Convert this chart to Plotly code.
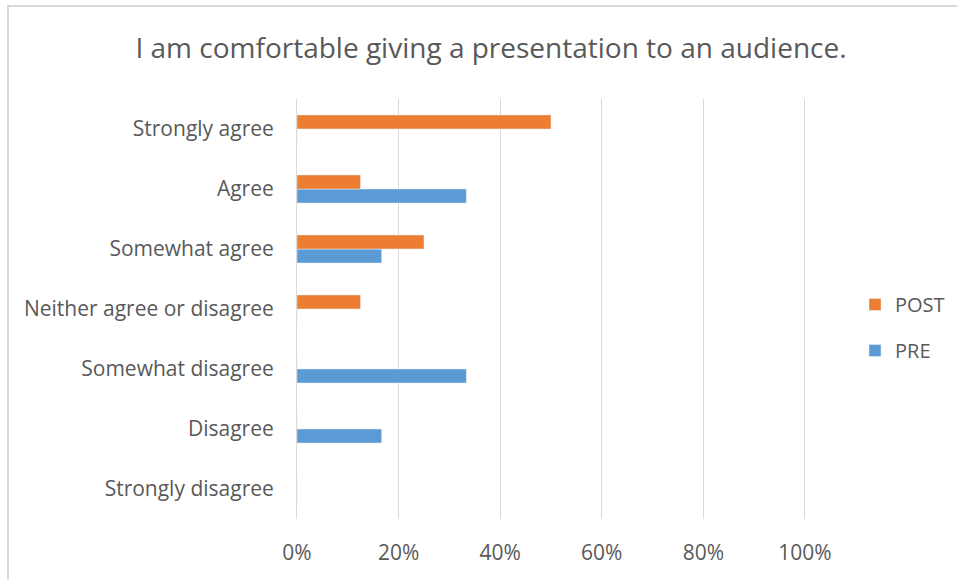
import plotly.graph_objects as go

# Survey responses, listed bottom-to-top as they appear on the axis
categories = [
    "Strongly disagree",
    "Disagree",
    "Somewhat disagree",
    "Neither agree or disagree",
    "Somewhat agree",
    "Agree",
    "Strongly agree",
]
pre_values = [0, 1/6, 1/3, 0, 1/6, 1/3, 0]
post_values = [0, 0, 0, 0.125, 0.25, 0.125, 0.5]
x_ticks = [0, 0.2, 0.4, 0.6, 0.8, 1.0]
x_tick_labels = ["0%", "20%", "40%", "60%", "80%", "100%"]

BLUE = "#5B9BD5"
ORANGE = "#ED7D31"
TEXT = "#595959"
GRID = "#D9D9D9"
FONT = "Open Sans, sans-serif"

W, H = 957, 580
L, R, T, B = 297, 151, 99, 61
pw, ph = W - L - R, H - T - B


def px_x(x):
    return (x - L) / pw


def px_y(y):
    return (H - B - y) / ph


fig = go.Figure()
fig.add_trace(go.Bar(
    y=categories, x=pre_values, name="PRE", orientation="h",
    marker=dict(color=BLUE), legendgroup="pre", legendrank=2,
))
fig.add_trace(go.Bar(
    y=categories, x=post_values, name="POST", orientation="h",
    marker=dict(color=ORANGE), legendgroup="post", legendrank=1,
))

fig.update_layout(
    width=W, height=H,
    margin=dict(l=L, r=R, t=T, b=B, autoexpand=False),
    paper_bgcolor="white", plot_bgcolor="white",
    barmode="group", bargap=0.533, bargroupgap=0,
    font=dict(family=FONT, color=TEXT, size=21),
    title=dict(
        text="I am comfortable giving a presentation to an audience.",
        x=491 / W, xanchor="center", y=1 - 48 / H, yanchor="middle",
        font=dict(size=28, color=TEXT, family=FONT),
    ),
    xaxis=dict(
        range=[0, 1.002], tickvals=x_ticks, ticktext=x_tick_labels,
        showgrid=True, gridcolor=GRID, gridwidth=1,
        zeroline=False, showline=False, ticks="",
        ticklabelstandoff=19, tickfont=dict(size=21, color=TEXT),
    ),
    yaxis=dict(
        categoryorder="array", categoryarray=categories,
        showgrid=False, zeroline=False,
        showline=True, linecolor=GRID, linewidth=1, ticks="",
        ticklabelstandoff=18, tickfont=dict(size=21, color=TEXT),
    ),
    legend=dict(
        x=px_x(855), xanchor="left", y=px_y(285), yanchor="top",
        traceorder="grouped", tracegroupgap=17,
        font=dict(size=20, color=TEXT), bgcolor="rgba(0,0,0,0)",
    ),
    shapes=[dict(
        type="rect", xref="paper", yref="paper",
        x0=px_x(8), x1=px_x(965), y0=px_y(590), y1=px_y(6),
        line=dict(color=GRID, width=2), fillcolor="rgba(0,0,0,0)",
        layer="below",
    )],
)

fig.write_html("out.html")
